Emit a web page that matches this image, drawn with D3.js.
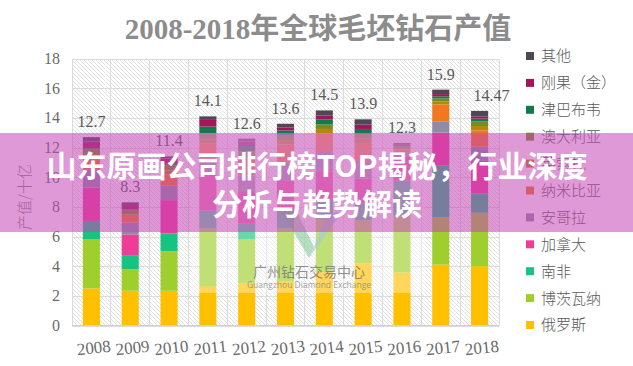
<!DOCTYPE html>
<html>
<head>
<meta charset="utf-8">
<script src="https://cdn.jsdelivr.net/npm/d3@7"></script>
<style>
  body { margin: 0; background: #fff; }
  svg { display: block; }
</style>
</head>
<body>
<div id="chart"></div>
<script>
// Years and the printed totals
const years = ['2008', '2009', '2010', '2011', '2012', '2013', '2014', '2015', '2016', '2017', '2018'];
const totals = [12.7, 8.3, 11.4, 14.1, 12.6, 13.6, 14.5, 13.9, 12.3, 15.9, 14.47];
const yTicks = [0, 2, 4, 6, 8, 10, 12, 14, 16, 18];

// Series, bottom of the stack first
const countries = ['俄罗斯', '博茨瓦纳', '南非', '加拿大', '安哥拉', '纳米比亚', '莱索托', '澳大利亚', '津巴布韦', '刚果（金）', '其他'];
const colors = ['#ffc000', '#9fcf2f', '#18c281', '#ee3d97', '#8e8ba5', '#f0781e', '#b8860b', '#7b8a1e', '#137a4c', '#a3145c', '#4e4852'];

const russia      = [2.5, 2.34, 2.34, 2.66, 2.85, 2.95, 3.6, 4.2, 3.57, 4.1, 4.0];
const botswana    = [3.3, 1.46, 2.66, 3.9, 2.95, 3.6, 3.6, 2.9, 3.8, 3.2, 3.6];
const southAfrica = [1.25, 0.9, 1.2, 1.2, 1.1, 1.2, 1.2, 1.1, 2.4, 3.5, 1.3];
const canada      = [2.25, 1.44, 2.25, 2.4, 2.1, 2.0, 2.0, 1.7, 1.6, 2.2, 2.2];
const angola      = [1.2, 0.8, 1.0, 1.1, 1.1, 1.25, 1.3, 1.2, 0.3, 0.77, 0.95];
const namibia     = [0.7, 0.45, 0.75, 1.0, 0.9, 1.2, 1.25, 1.2, 0.2, 1.13, 1.1];
const lesotho     = [0.2, 0.1, 0.25, 0.3, 0.3, 0.3, 0.3, 0.3, 0.1, 0.2, 0.3];
const australia   = [0.5, 0.3, 0.35, 0.4, 0.45, 0.3, 0.3, 0.3, 0.1, 0.2, 0.3];
const zimbabwe    = [0.05, 0.03, 0.1, 0.45, 0.35, 0.35, 0.35, 0.35, 0.1, 0.15, 0.2];
const drc         = [0.45, 0.3, 0.35, 0.45, 0.3, 0.2, 0.25, 0.3, 0.05, 0.15, 0.15];
const others      = [0.3, 0.18, 0.15, 0.24, 0.2, 0.25, 0.35, 0.35, 0.08, 0.3, 0.37];

const seriesValues = [russia, botswana, southAfrica, canada, angola, namibia, lesotho, australia, zimbabwe, drc, others];

const width = 633, height = 366;
const margin = { top: 58.5, right: 134, bottom: 40.5, left: 72 };
const serif = '"Liberation Serif", "DejaVu Serif", serif';
const sans = '"Noto Sans CJK SC", "Noto Sans", sans-serif';

const svg = d3.select('#chart')
  .append('svg')
  .attr('width', width)
  .attr('height', height);

// build table rows for d3.stack
const table = years.map((yr, i) => {
  const row = { year: yr };
  countries.forEach((c, k) => { row[c] = seriesValues[k][i]; });
  return row;
});
const stacked = d3.stack().keys(countries)(table);

const x = d3.scaleBand()
  .domain(years)
  .range([margin.left, width - margin.right])
  .paddingInner(0.56)
  .paddingOuter(0.28);

const y = d3.scaleLinear()
  .domain([0, 18])
  .range([height - margin.bottom, margin.top]);

// hatched plot background
const defs = svg.append('defs');
const pat = defs.append('pattern')
  .attr('id', 'hatch')
  .attr('patternUnits', 'userSpaceOnUse')
  .attr('width', 4)
  .attr('height', 4);
pat.append('path')
  .attr('d', 'M-1,-1 L5,5 M-1,3 L1,5 M3,-1 L5,1')
  .attr('stroke', '#d4d4d4')
  .attr('stroke-width', 0.7);

svg.append('rect')
  .attr('x', margin.left)
  .attr('y', margin.top)
  .attr('width', width - margin.left - margin.right)
  .attr('height', height - margin.top - margin.bottom)
  .attr('fill', 'url(#hatch)');

// grid lines
svg.append('g')
  .attr('class', 'grid')
  .attr('transform', `translate(${margin.left},0)`)
  .call(d3.axisLeft(y).tickValues(yTicks).tickSize(-(width - margin.left - margin.right)).tickFormat(''));

const step = x.step();
const boundaries = d3.range(years.length + 1);
svg.append('g')
  .attr('class', 'grid')
  .selectAll('line')
  .data(boundaries)
  .enter()
  .append('line')
  .attr('x1', d => margin.left + d * step)
  .attr('x2', d => margin.left + d * step)
  .attr('y1', y(18))
  .attr('y2', y(0));

svg.selectAll('.grid line')
  .attr('stroke', '#dcdcdc')
  .attr('stroke-width', 1)
  .attr('shape-rendering', 'crispEdges');
svg.selectAll('.grid path').remove();

// stacked bars
svg.append('g')
  .selectAll('g')
  .data(stacked)
  .enter()
  .append('g')
  .attr('fill', (d, k) => colors[k])
  .selectAll('rect')
  .data(d => d)
  .enter()
  .append('rect')
  .attr('x', d => x(d.data.year))
  .attr('y', d => y(d[1]))
  .attr('width', x.bandwidth())
  .attr('height', d => y(d[0]) - y(d[1]));

// total labels
svg.append('g')
  .selectAll('text')
  .data(years)
  .enter()
  .append('text')
  .attr('x', (d, i) => x(d) + x.bandwidth() / 2 + (i === years.length - 1 ? 12 : 0))
  .attr('y', (d, i) => y(d3.sum(seriesValues, s => s[i])) - 10)
  .attr('text-anchor', 'middle')
  .attr('font-family', serif)
  .attr('font-size', 16)
  .attr('fill', '#595959')
  .text((d, i) => totals[i]);

// y axis
const yAxis = svg.append('g')
  .attr('transform', `translate(${margin.left},0)`)
  .call(d3.axisLeft(y).tickValues(yTicks).tickSize(0).tickPadding(12));
yAxis.select('.domain').remove();
yAxis.selectAll('text')
  .attr('font-family', serif)
  .attr('font-size', 16)
  .attr('fill', '#6b6b6b');

// x axis
svg.append('line')
  .attr('x1', margin.left).attr('x2', width - margin.right)
  .attr('y1', y(0)).attr('y2', y(0))
  .attr('stroke', '#d0d0d0');
const xAxis = svg.append('g')
  .attr('transform', `translate(0,${y(0)})`)
  .call(d3.axisBottom(x).tickSize(0).tickPadding(16));
xAxis.select('.domain').remove();
xAxis.selectAll('text')
  .attr('font-family', serif)
  .attr('font-size', 17)
  .attr('fill', '#6b6b6b')
  .attr('transform', 'rotate(-6)');

// y axis title
svg.append('text')
  .attr('transform', 'translate(30,197) rotate(-90)')
  .attr('text-anchor', 'middle')
  .attr('font-family', sans)
  .attr('font-size', 15)
  .attr('font-weight', 300)
  .attr('fill', '#7f7f7f')
  .text('产值/十亿');

// chart title
svg.append('text')
  .attr('x', 318)
  .attr('y', 39)
  .attr('text-anchor', 'middle')
  .attr('font-family', serif + ', "Noto Sans CJK SC"')
  .attr('font-size', 29)
  .attr('font-weight', 'bold')
  .attr('fill', '#8c8c8c')
  .text('2008-2018年全球毛坯钻石产值');

// legend, top item is the last series
const legend = svg.append('g')
  .selectAll('g')
  .data(countries.map((c, k) => ({ name: c, color: colors[k] })).reverse())
  .enter()
  .append('g')
  .attr('transform', (d, i) => `translate(526,${56 + i * 26.9})`);
legend.append('rect')
  .attr('x', 0).attr('y', -4)
  .attr('width', 8).attr('height', 8)
  .attr('fill', d => d.color);
legend.append('text')
  .attr('x', 15)
  .attr('y', 0)
  .attr('dy', '0.36em')
  .attr('font-family', sans)
  .attr('font-size', 15)
  .attr('font-weight', 300)
  .attr('fill', '#595959')
  .text(d => d.name);

// watermark
svg.append('rect')
  .attr('x', 190).attr('y', 133)
  .attr('width', 236).attr('height', 160)
  .attr('fill', '#fff')
  .attr('opacity', 0.35);
svg.append('path')
  .attr('d', 'M282,212 L297,212 L314,247 L309,258 Z')
  .attr('fill', '#7cc48e')
  .attr('opacity', 0.55);
svg.append('path')
  .attr('d', 'M309,258 L314,247 L328,212 L342,212 Z')
  .attr('fill', '#9cc9e4')
  .attr('opacity', 0.6);
svg.append('text')
  .attr('x', 309).attr('y', 277)
  .attr('text-anchor', 'middle')
  .attr('font-family', sans)
  .attr('font-size', 14)
  .attr('fill', '#707070')
  .attr('opacity', 0.75)
  .text('广州钻石交易中心');
svg.append('text')
  .attr('x', 309).attr('y', 288)
  .attr('text-anchor', 'middle')
  .attr('font-family', '"Open Sans", sans-serif')
  .attr('font-size', 8.5)
  .attr('fill', '#8a8a8a')
  .attr('opacity', 0.8)
  .text('Guangzhou Diamond Exchange');

// overlay banner
svg.append('rect')
  .attr('x', 0).attr('y', 133)
  .attr('width', width).attr('height', 99)
  .attr('fill', 'rgb(196,70,180)')
  .attr('opacity', 0.55);
const bannerLines = ['山东原画公司排行榜TOP揭秘，行业深度', '分析与趋势解读'];
svg.append('g')
  .selectAll('text')
  .data(bannerLines)
  .enter()
  .append('text')
  .attr('x', 317)
  .attr('y', (d, i) => 177 + i * 38)
  .attr('text-anchor', 'middle')
  .attr('font-family', sans)
  .attr('font-size', 30)
  .attr('font-weight', 'bold')
  .attr('fill', '#fff')
  .text(d => d);
</script>
</body>
</html>
